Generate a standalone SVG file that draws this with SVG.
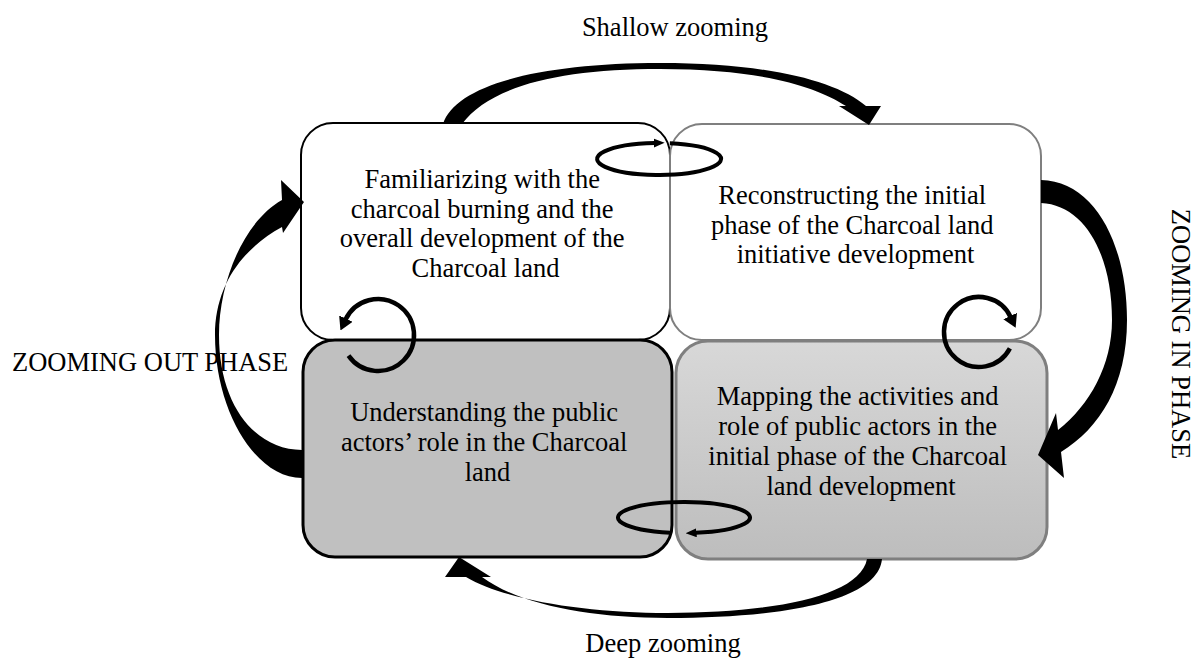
<svg xmlns="http://www.w3.org/2000/svg" width="1198" height="659" viewBox="0 0 1198 659">
  <style>
    .lbl { font-family: "Liberation Serif", "Times New Roman", serif; font-size: 26.5px; fill: #000; }
    .mid { text-anchor: middle; }
    .box-dark { stroke: #000; }
    .box-grey { stroke: #7f7f7f; }
    .band { fill: #000; stroke: none; }
    .loop { fill: none; stroke: #000; stroke-width: 4.5; }
    .loop-thin { fill: none; stroke: #000; stroke-width: 4; }
  </style>
  <defs>
    <linearGradient id="shade" x1="0" y1="0" x2="0" y2="1">
      <stop offset="0" stop-color="#d8d8d8"/>
      <stop offset="1" stop-color="#bdbdbd"/>
    </linearGradient>
    <marker id="headSmall" viewBox="0 0 10 10" refX="1" refY="5" markerWidth="11" markerHeight="9"
            markerUnits="userSpaceOnUse" orient="auto" preserveAspectRatio="none">
      <path d="M0,0 L10,5 L0,10 z" fill="#000"/>
    </marker>
    <marker id="headLarge" viewBox="0 0 10 10" refX="1" refY="5" markerWidth="13" markerHeight="15"
            markerUnits="userSpaceOnUse" orient="auto" preserveAspectRatio="none">
      <path d="M0,0 L10,5 L0,10 z" fill="#000"/>
    </marker>
  </defs>

  <rect width="1198" height="659" fill="#fff"/>

  <!-- phase labels -->
  <text class="lbl mid" x="675" y="36">Shallow zooming</text>
  <text class="lbl mid" x="663" y="652">Deep zooming</text>
  <text class="lbl" x="12" y="371">ZOOMING OUT PHASE</text>
  <text class="lbl mid" transform="translate(1172,334) rotate(90)">ZOOMING IN PHASE</text>

  <!-- step boxes -->
  <g id="familiarizing">
    <rect class="box-dark" x="301" y="123" width="369" height="217" rx="32" ry="32" fill="#fff" stroke-width="2"/>
    <text class="lbl mid">
      <tspan x="485.5" y="188">Familiarizing with the</tspan>
      <tspan x="485.5" y="217.5">charcoal burning and the</tspan>
      <tspan x="485.5" y="247">overall development of the</tspan>
      <tspan x="485.5" y="276.5">Charcoal land</tspan>
    </text>
  </g>
  <g id="reconstructing">
    <rect class="box-grey" x="670" y="124" width="371" height="216" rx="32" ry="32" fill="#fff" stroke-width="2"/>
    <text class="lbl mid">
      <tspan x="855.5" y="204">Reconstructing the initial</tspan>
      <tspan x="855.5" y="233.5">phase of the Charcoal land</tspan>
      <tspan x="855.5" y="263">initiative development</tspan>
    </text>
  </g>
  <g id="understanding">
    <rect class="box-dark" x="303" y="340" width="369" height="217" rx="32" ry="32" fill="#c0c0c0" stroke-width="3"/>
    <text class="lbl mid">
      <tspan x="487.5" y="421">Understanding the public</tspan>
      <tspan x="487.5" y="451">actors’ role in the Charcoal</tspan>
      <tspan x="487.5" y="481">land</tspan>
    </text>
  </g>
  <g id="mapping">
    <rect class="box-grey" x="676" y="341" width="371" height="218" rx="32" ry="32" fill="url(#shade)" stroke-width="3"/>
    <text class="lbl mid">
      <tspan x="861" y="405">Mapping the activities and</tspan>
      <tspan x="861" y="435">role of public actors in the</tspan>
      <tspan x="861" y="465">initial phase of the Charcoal</tspan>
      <tspan x="861" y="495">land development</tspan>
    </text>
  </g>

  <!-- connectors -->
  <g id="connectors">
    <!-- shallow zooming: top-left to top-right -->
    <path class="band" d="M443,124 C455,85 540,63 660,63 C765,63 835,80 866,106 L881,106 L869,125 L839,106 L846,106 C815,86 760,69 660,69 C560,69 490,86 462,124 Z"/>
    <!-- zooming in: top-right down to bottom-right -->
    <path class="band" d="M1041,180 C1095,181 1127,245 1127,320 C1127,385 1100,428 1061,452 L1064,478 L1038,455 L1056,413 L1058,430 C1090,405 1112,365 1112,320 C1112,255 1085,205 1041,203 Z"/>
    <!-- deep zooming: bottom-right to bottom-left -->
    <path class="band" d="M882,559 C878,602 780,618 668,618 C590,618 520,605 482,577 L491,577 L459,557 L445,577 L466,577 C505,600 585,613 668,613 C770,613 860,597 867,559 Z"/>
    <!-- zooming out: bottom-left up to top-left -->
    <path class="band" d="M302,478 C255,478 215,410 215,335 C215,285 243,248 282,227 L283,233 L304,202 L281,180 L282,200 C243,222 219,283 219,335 C219,405 255,450 302,450 Z"/>

    <!-- iteration loops between neighbouring steps -->
    <path class="loop-thin" d="M669.8,143.2 A62 16 0 1 1 654.7,143" marker-end="url(#headSmall)"/>
    <path class="loop-thin" d="M670.3,532.7 A66 15.5 0 1 1 695.5,532.8" marker-end="url(#headSmall)"/>
    <path class="loop" d="M348.5,355.6 A36 36 0 1 0 345.4,319.8" marker-end="url(#headLarge)"/>
    <path class="loop" d="M1009.9,348.4 A35 35 0 1 1 1010.7,317.2" marker-end="url(#headLarge)"/>
  </g>
</svg>
